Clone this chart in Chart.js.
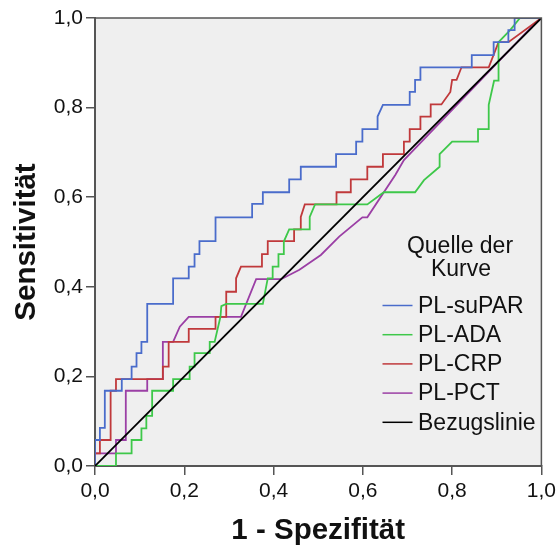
<!DOCTYPE html>
<html><head><meta charset="utf-8">
<script src="https://cdn.jsdelivr.net/npm/chart.js@4/dist/chart.umd.min.js"></script>
<style>html,body{margin:0;padding:0;background:#fff}</style>
</head><body>
<canvas id="c" width="560" height="549"></canvas>
<script>
// ---- data (FPR, TPR vertices of each ROC step curve) ----
const xTickValues = [0, 0.2, 0.4, 0.6, 0.8, 1.0];
const yTickValues = [0, 0.2, 0.4, 0.6, 0.8, 1.0];
const seriesNames = ['PL-suPAR', 'PL-ADA', 'PL-CRP', 'PL-PCT', 'Bezugslinie'];
const legendTitle = ['Quelle der', 'Kurve'];

const suparPoints = [[0,0],[0,0.058],[0.011,0.058],[0.011,0.085],[0.022,0.085],[0.022,0.168],[0.06,0.168],[0.06,0.194],[0.082,0.194],[0.082,0.222],[0.093,0.222],[0.093,0.252],[0.104,0.252],[0.104,0.277],[0.117,0.277],[0.117,0.362],[0.175,0.362],[0.175,0.419],[0.21,0.419],[0.21,0.445],[0.223,0.445],[0.223,0.473],[0.234,0.473],[0.234,0.502],[0.27,0.502],[0.27,0.555],[0.352,0.555],[0.352,0.585],[0.376,0.585],[0.376,0.611],[0.435,0.611],[0.435,0.64],[0.461,0.64],[0.461,0.668],[0.54,0.668],[0.54,0.696],[0.585,0.696],[0.585,0.724],[0.599,0.724],[0.599,0.752],[0.633,0.752],[0.633,0.78],[0.645,0.806],[0.705,0.806],[0.705,0.835],[0.717,0.835],[0.717,0.862],[0.729,0.862],[0.729,0.89],[0.844,0.89],[0.844,0.917],[0.893,0.917],[0.893,0.946],[0.926,0.946],[0.926,0.973],[0.94,0.973],[0.94,1],[1,1]];

const adaPoints = [[0,0],[0.047,0],[0.047,0.028],[0.082,0.028],[0.082,0.058],[0.104,0.058],[0.104,0.084],[0.115,0.084],[0.115,0.112],[0.128,0.112],[0.128,0.168],[0.175,0.168],[0.175,0.194],[0.212,0.194],[0.212,0.222],[0.223,0.222],[0.223,0.252],[0.257,0.252],[0.257,0.277],[0.268,0.277],[0.281,0.333],[0.283,0.357],[0.294,0.362],[0.376,0.362],[0.387,0.419],[0.398,0.419],[0.398,0.445],[0.411,0.445],[0.411,0.473],[0.423,0.473],[0.423,0.501],[0.435,0.528],[0.481,0.528],[0.481,0.556],[0.493,0.584],[0.61,0.584],[0.647,0.611],[0.717,0.611],[0.737,0.638],[0.772,0.668],[0.772,0.696],[0.8,0.724],[0.858,0.724],[0.858,0.752],[0.882,0.752],[0.882,0.806],[0.894,0.86],[0.904,0.86],[0.904,0.946],[0.93,0.973],[0.952,1],[1,1]];

const crpPoints = [[0,0],[0,0.028],[0.011,0.028],[0.011,0.058],[0.035,0.058],[0.035,0.168],[0.047,0.168],[0.047,0.194],[0.152,0.194],[0.152,0.222],[0.165,0.222],[0.165,0.277],[0.21,0.277],[0.21,0.306],[0.27,0.306],[0.27,0.333],[0.294,0.333],[0.294,0.389],[0.316,0.389],[0.316,0.419],[0.327,0.445],[0.374,0.445],[0.374,0.473],[0.387,0.473],[0.387,0.502],[0.446,0.502],[0.446,0.528],[0.461,0.528],[0.461,0.556],[0.47,0.584],[0.541,0.584],[0.541,0.611],[0.573,0.611],[0.573,0.64],[0.61,0.64],[0.61,0.668],[0.645,0.668],[0.645,0.696],[0.692,0.696],[0.692,0.724],[0.705,0.724],[0.705,0.752],[0.729,0.752],[0.729,0.78],[0.752,0.78],[0.752,0.807],[0.776,0.807],[0.796,0.835],[0.8,0.862],[0.81,0.862],[0.821,0.89],[0.882,0.89],[0.904,0.946],[0.926,0.946],[1,1]];

const pctPoints = [[0,0],[0,0.028],[0.047,0.028],[0.047,0.058],[0.069,0.058],[0.069,0.168],[0.117,0.168],[0.117,0.194],[0.152,0.194],[0.152,0.277],[0.175,0.277],[0.19,0.311],[0.21,0.333],[0.327,0.333],[0.361,0.417],[0.417,0.417],[0.458,0.438],[0.506,0.471],[0.547,0.512],[0.599,0.555],[0.61,0.555],[0.673,0.65],[0.692,0.683],[0.987,0.989],[1,1]];

const referencePoints = [[0,0],[1,1]];

const seriesColors = ['#4a6ccb', '#3ec84a', '#c0393b', '#9b3fa5', '#000000'];
// --------------------------------------------------------

const seriesPoints = [suparPoints, adaPoints, crpPoints, pctPoints, referencePoints];
const fmt = v => Number(v).toFixed(1).replace('.', ',');
const FONT = '"Liberation Sans", Arial, sans-serif';

const datasets = seriesPoints.map((pts, i) => ({
  label: seriesNames[i],
  data: pts.map(p => ({x: p[0], y: p[1]})),
  borderColor: seriesColors[i],
  backgroundColor: seriesColors[i],
  borderWidth: 1.8,
  pointRadius: 0,
  showLine: true,
  tension: 0,
  fill: false,
  order: i === 4 ? 0 : i + 1
}));

const plotBg = {
  id: 'plotBg',
  beforeDraw(chart) {
    const {ctx, chartArea: a} = chart;
    ctx.save();
    ctx.fillStyle = '#efefef';
    ctx.fillRect(a.left, a.top, a.right - a.left, a.bottom - a.top);
    ctx.restore();
  },
  afterDraw(chart) {
    const {ctx, chartArea: a} = chart;
    ctx.save();
    ctx.strokeStyle = '#555';
    ctx.lineWidth = 1.5;
    ctx.beginPath();
    ctx.moveTo(a.left, a.top);
    ctx.lineTo(a.right, a.top);
    ctx.lineTo(a.right, a.bottom);
    ctx.stroke();
    // legend
    ctx.fillStyle = '#111';
    ctx.font = '23px ' + FONT;
    ctx.textBaseline = 'middle';
    ctx.textAlign = 'center';
    ctx.fillText(legendTitle[0], 460, 247);
    ctx.fillText(legendTitle[1], 461, 270);
    ctx.textAlign = 'left';
    const y0 = 305.5, dy = 29.2;
    seriesNames.forEach((name, i) => {
      const y = y0 + i * dy;
      ctx.strokeStyle = seriesColors[i];
      ctx.lineWidth = 1.5;
      ctx.beginPath();
      ctx.moveTo(382.5, y);
      ctx.lineTo(412.5, y);
      ctx.stroke();
      ctx.fillStyle = '#111';
      ctx.fillText(name, 418, y + 1);
    });
    ctx.restore();
  }
};

new Chart(document.getElementById('c'), {
  type: 'scatter',
  data: {datasets},
  options: {
    responsive: false,
    animation: false,
    devicePixelRatio: 1,
    layout: {padding: {left: 0, top: 18, right: 17, bottom: 0}},
    plugins: {legend: {display: false}, tooltip: {enabled: false}},
    scales: {
      x: {
        type: 'linear', min: 0, max: 1,
        afterFit: s => { s.height = 83; },
        afterBuildTicks: s => { s.ticks = xTickValues.map(v => ({value: v})); },
        ticks: {callback: v => fmt(v), font: {family: FONT, size: 21}, color: '#111', padding: 4, maxRotation: 0, autoSkip: false},
        grid: {drawOnChartArea: false, drawTicks: true, tickLength: 9, color: '#555', lineWidth: 1.5},
        border: {display: true, color: '#555', width: 2},
        title: {display: true, text: '1 - Spezifität', font: {family: FONT, size: 29.5, weight: 'bold'}, color: '#111', padding: {top: 0, bottom: 0.5}}
      },
      y: {
        type: 'linear', min: 0, max: 1,
        afterFit: s => { s.width = 95; },
        afterBuildTicks: s => { s.ticks = yTickValues.map(v => ({value: v})); },
        ticks: {callback: v => fmt(v), font: {family: FONT, size: 21}, color: '#111', padding: 3, autoSkip: false},
        grid: {drawOnChartArea: false, drawTicks: true, tickLength: 9, color: '#555', lineWidth: 1.5},
        border: {display: true, color: '#555', width: 2},
        title: {display: true, text: 'Sensitivität', font: {family: FONT, size: 29.5, weight: 'bold'}, color: '#111', padding: {top: 9.5, bottom: 0}}
      }
    }
  },
  plugins: [plotBg]
});
</script>
</body></html>
